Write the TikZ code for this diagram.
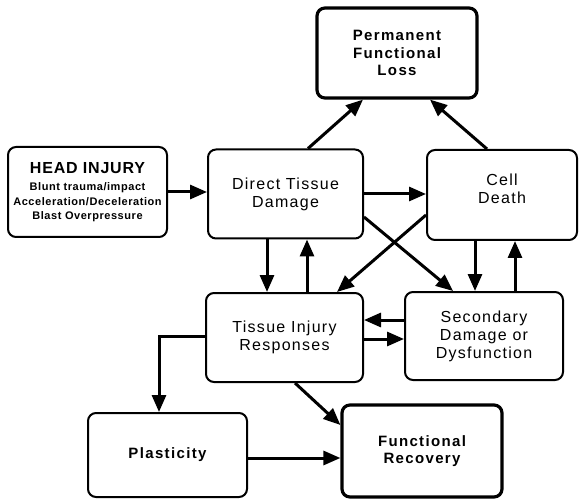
\documentclass[tikz,border=0pt]{standalone}
\usepackage{fontspec}
\setmainfont{Liberation Sans}
\newfontfamily\regfont[LetterSpace=8]{Liberation Sans}
\newfontfamily\boldfont[LetterSpace=9]{Liberation Sans Bold}
\newfontfamily\headfont[LetterSpace=5]{Liberation Sans Bold}
\usetikzlibrary{arrows.meta,calc}
\begin{document}
\begin{tikzpicture}[x=1pt,y=-1pt,
  box/.style={draw,rounded corners=8pt,line width=2pt,inner sep=0pt,align=center},
  thickbox/.style={box,line width=3.2pt},
  regtext/.style={font=\regfont\fontsize{16}{18}\selectfont},
  boldtext/.style={font=\boldfont\fontsize{15}{17.5}\selectfont},
  arr/.style={line width=3pt,-{Triangle[length=17pt,width=14pt]}}]
\useasboundingbox (0,0) rectangle (579,500);
\fill[white] (0,0) rectangle (579,500);
% boxes
\node[box,font=\headfont\fontsize{11}{14.5}\selectfont,minimum width=159pt,minimum height=90pt] (head) at (87.5,192)
  {\fontsize{16}{18}\selectfont HEAD INJURY\\[3pt]
   \fontsize{11}{14.5}\selectfont Blunt trauma/impact\\ Acceleration/Deceleration\\ Blast Overpressure};
\node[box,regtext,minimum width=155pt,minimum height=89pt] (dtd) at (285.5,194) {Direct Tissue\\Damage};
\node[box,regtext,minimum width=150pt,minimum height=90pt] (cell) at (502,195) {Cell\\Death\\[-10pt]\strut};
\node[thickbox,boldtext,minimum width=160pt,minimum height=90pt] (pfl) at (397,53) {Permanent\\Functional\\Loss};
\node[box,regtext,minimum width=157pt,minimum height=89pt] (tir) at (284.5,337.5) {Tissue Injury\\Responses};
\node[box,regtext,minimum width=158pt,minimum height=88pt] (sec) at (484,336) {Secondary\\Damage or\\Dysfunction};
\node[box,boldtext,minimum width=159pt,minimum height=84pt] (pla) at (167.5,455) {Plasticity};
\node[thickbox,boldtext,minimum width=160pt,minimum height=92pt] (fr) at (422,451) {Functional\\Recovery};
% helper coordinates
\coordinate (xa) at (267,0);
\coordinate (xb) at (307,0);
\coordinate (xc) at (475,0);
\coordinate (xd) at (515,0);
\coordinate (xp) at (159,0);
\coordinate (ya) at (0,320);
\coordinate (yb) at (0,339);
\coordinate (yp) at (0,336);
\coordinate (yf) at (0,458);
% connectors
\draw[arr] (head.east) -- (head.east -| dtd.west);
\draw[arr] (dtd.east) -- (dtd.east -| cell.west);
\draw[arr] ($(dtd.north)+(22.5,0)$) -- ($(pfl.south)+(-34,0)$);
\draw[arr] ($(cell.north)+(-15,0)$) -- ($(pfl.south)+(33,0)$);
\draw[arr] ($(dtd.east)+(0,23)$) -- ($(sec.north)+(-31,0)$);
\draw[arr] ($(cell.west)+(0,20)$) -- ($(tir.north)+(52.5,0)$);
\draw[arr] (dtd.south -| xa) -- (tir.north -| xa);
\draw[arr] (tir.north -| xb) -- (dtd.south -| xb);
\draw[arr] (cell.south -| xc) -- (sec.north -| xc);
\draw[arr] (sec.north -| xd) -- (cell.south -| xd);
\draw[arr] (sec.west |- ya) -- (tir.east |- ya);
\draw[arr] (tir.east |- yb) -- (sec.west |- yb);
\draw[arr] (tir.west |- yp) -| (pla.north -| xp);
\draw[arr] ($(tir.south)+(10.5,0)$) -- ($(fr.west)+(0,-26)$);
\draw[arr] (pla.east |- yf) -- (fr.west |- yf);
\end{tikzpicture}
\end{document}
